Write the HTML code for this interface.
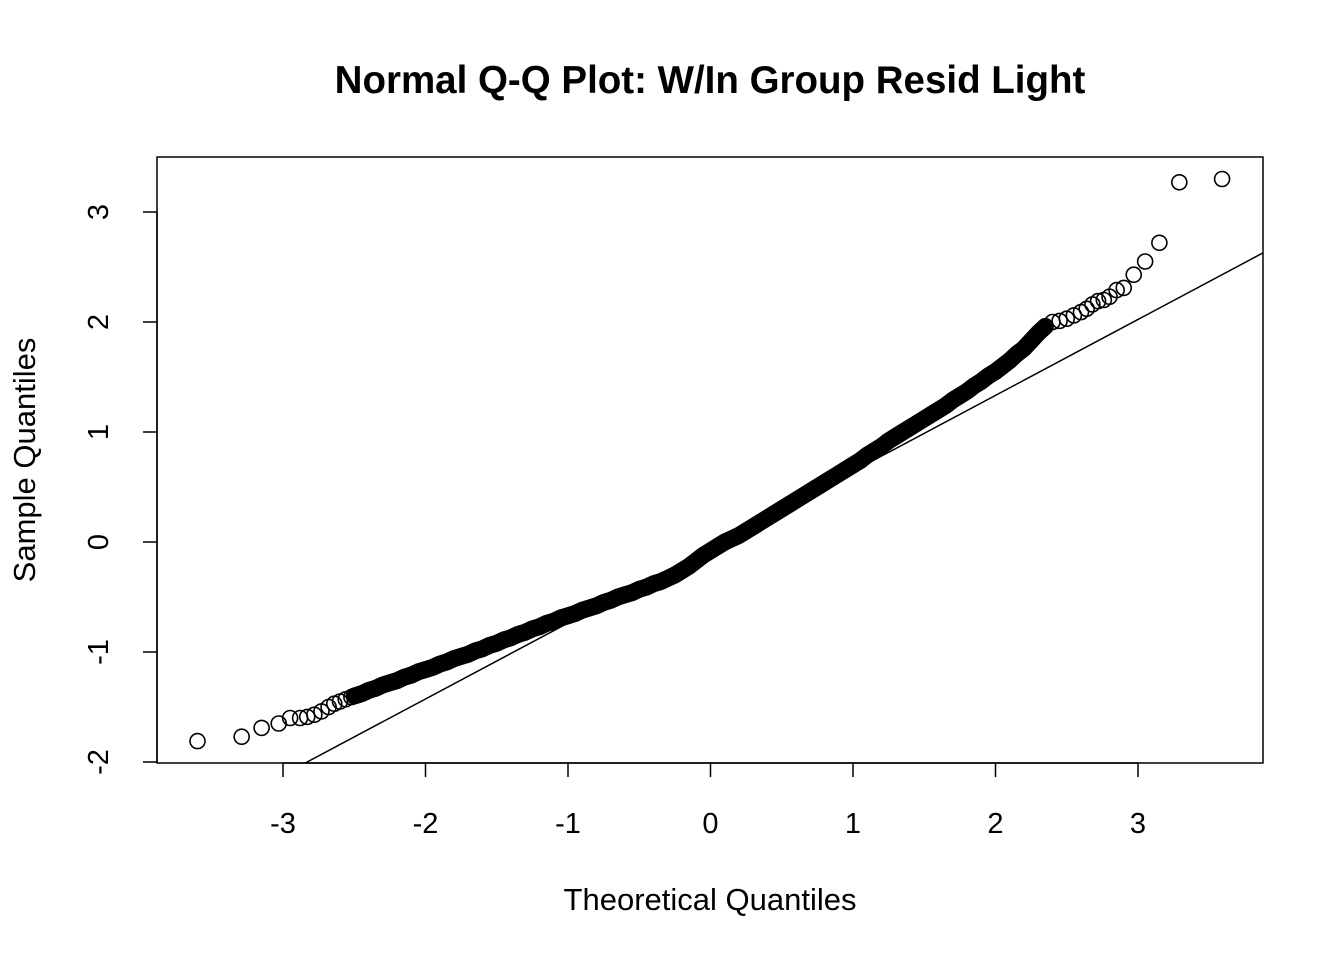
<!DOCTYPE html>
<html><head><meta charset="utf-8"><style>
body{margin:0;background:#fff;}
svg text{font-family:"Liberation Sans",Arial,sans-serif;fill:#000;}
</style></head><body>
<svg id="chart" width="1344" height="960" xmlns="http://www.w3.org/2000/svg">
<rect width="1344" height="960" fill="#fff"/>
<text x="710" y="93" text-anchor="middle" font-size="38.5" font-weight="bold">Normal Q-Q Plot: W/In Group Resid Light</text>
<rect x="157" y="157" width="1106" height="606" fill="none" stroke="#000" stroke-width="1.5"/>
<text x="710" y="910" text-anchor="middle" font-size="31">Theoretical Quantiles</text>
<text transform="translate(35,460) rotate(-90)" text-anchor="middle" font-size="31">Sample Quantiles</text>
<g id="axes"></g>
<clipPath id="clip"><rect x="157" y="157" width="1106" height="606"/></clipPath>
<g id="line" clip-path="url(#clip)"></g>
<g id="points"></g>
</svg>
<script>
const theoretical=[-3.60,-3.29,-3.15,-3.03,-2.95,-2.88,-2.83,-2.78,-2.73,-2.68,-2.64,-2.60,-2.56,-2.52,
-2.50,-2.45,-2.40,-2.35,-2.30,-2.25,-2.20,-2.15,-2.10,-2.05,-2.00,-1.95,-1.90,-1.85,-1.80,-1.75,-1.70,-1.65,-1.60,-1.55,-1.50,
-1.45,-1.40,-1.35,-1.30,-1.25,-1.20,-1.15,-1.10,-1.05,-1.00,-0.95,-0.90,-0.85,-0.80,-0.75,-0.70,-0.65,-0.60,-0.55,-0.50,
-0.45,-0.40,-0.35,-0.30,-0.25,-0.20,-0.15,-0.10,-0.05,0,0.05,0.10,0.15,0.20,0.25,0.30,0.35,0.40,0.45,0.50,
0.55,0.60,0.65,0.70,0.75,0.80,0.85,0.90,0.95,1.00,1.05,1.10,1.15,1.20,1.25,1.30,1.35,1.40,1.45,1.50,
1.55,1.60,1.65,1.70,1.75,1.80,1.85,1.90,1.95,2.00,2.05,2.10,2.15,2.20,2.25,2.30,2.35,2.40,2.45,2.50,2.55,2.60,
2.64,2.68,2.72,2.76,2.80,2.85,2.90,2.97,3.05,3.15,3.29,3.59];
const sample=[-1.81,-1.77,-1.69,-1.65,-1.60,-1.60,-1.59,-1.57,-1.54,-1.50,-1.47,-1.45,-1.43,-1.41,
-1.40,-1.38,-1.35,-1.33,-1.30,-1.28,-1.26,-1.23,-1.21,-1.18,-1.16,-1.14,-1.11,-1.09,-1.06,-1.04,-1.02,-0.99,-0.97,-0.94,-0.92,
-0.89,-0.87,-0.84,-0.82,-0.79,-0.77,-0.74,-0.72,-0.69,-0.67,-0.65,-0.62,-0.60,-0.58,-0.55,-0.53,-0.50,-0.48,-0.46,-0.43,
-0.41,-0.38,-0.36,-0.33,-0.30,-0.26,-0.22,-0.17,-0.12,-0.08,-0.04,0.00,0.03,0.06,0.10,0.14,0.18,0.22,0.26,0.30,
0.34,0.38,0.42,0.46,0.50,0.54,0.58,0.62,0.66,0.70,0.74,0.79,0.83,0.87,0.92,0.96,1.00,1.04,1.08,1.12,
1.16,1.20,1.24,1.29,1.33,1.37,1.42,1.46,1.51,1.55,1.60,1.65,1.71,1.76,1.83,1.90,1.96,2.00,2.01,2.03,2.06,2.09,
2.12,2.16,2.19,2.20,2.23,2.29,2.31,2.43,2.55,2.72,3.27,3.30];
const xTicks=[-3,-2,-1,0,1,2,3];
const yTicks=[-2,-1,0,1,2,3];
const lineIntercept=-0.047, lineSlope=0.69;

const NS='http://www.w3.org/2000/svg';
const sx=v=>710.5+142.5*v;
const sy=v=>542-110*v;
function mk(tag,attrs,parent){const e=document.createElementNS(NS,tag);for(const k in attrs)e.setAttribute(k,attrs[k]);parent.appendChild(e);return e;}
const axes=document.getElementById('axes');
let xa=mk('line',{x1:sx(xTicks[0]),x2:sx(xTicks[xTicks.length-1]),y1:763,y2:763,stroke:'#000','stroke-width':1.5},axes);


xTicks.forEach(t=>{
  let l=mk('line',{x1:sx(t),x2:sx(t),y1:763,y2:777,stroke:'#000','stroke-width':1.5},axes);
  
  
  let tx=mk('text',{x:sx(t),y:833,'text-anchor':'middle','font-size':29},axes);
  tx.textContent=t;
  
  
});
let ya=mk('line',{x1:157,x2:157,y1:sy(yTicks[0]),y2:sy(yTicks[yTicks.length-1]),stroke:'#000','stroke-width':1.5},axes);


yTicks.forEach(t=>{
  let l=mk('line',{x1:143,x2:157,y1:sy(t),y2:sy(t),stroke:'#000','stroke-width':1.5},axes);
  
  
  let tx=mk('text',{transform:`translate(108,${sy(t)}) rotate(-90)`,'text-anchor':'middle','font-size':29},axes);
  tx.textContent=t;
  
  
});
const lg=document.getElementById('line');
const x1=-4,x2=4;
let ql=mk('line',{x1:sx(x1),y1:sy(lineIntercept+lineSlope*x1),x2:sx(x2),y2:sy(lineIntercept+lineSlope*x2),stroke:'#000','stroke-width':1.5},lg);


const pg=document.getElementById('points');
// dense overlapping region rendered as a solid band through the same data
const bandPts=theoretical.map((t,i)=>[t,sample[i]]).filter(p=>p[0]>=-2.5&&p[0]<=2.35).map(p=>sx(p[0])+','+sy(p[1])).join(' ');
let band=mk('polyline',{points:bandPts,fill:'none',stroke:'#000','stroke-width':17,'stroke-linejoin':'round','stroke-linecap':'round'},pg);


theoretical.forEach((t,i)=>{
  let c=mk('circle',{cx:sx(t),cy:sy(sample[i]),r:7.5,fill:'none',stroke:'#000','stroke-width':1.6},pg);
  
  
});
</script>
</body></html>
